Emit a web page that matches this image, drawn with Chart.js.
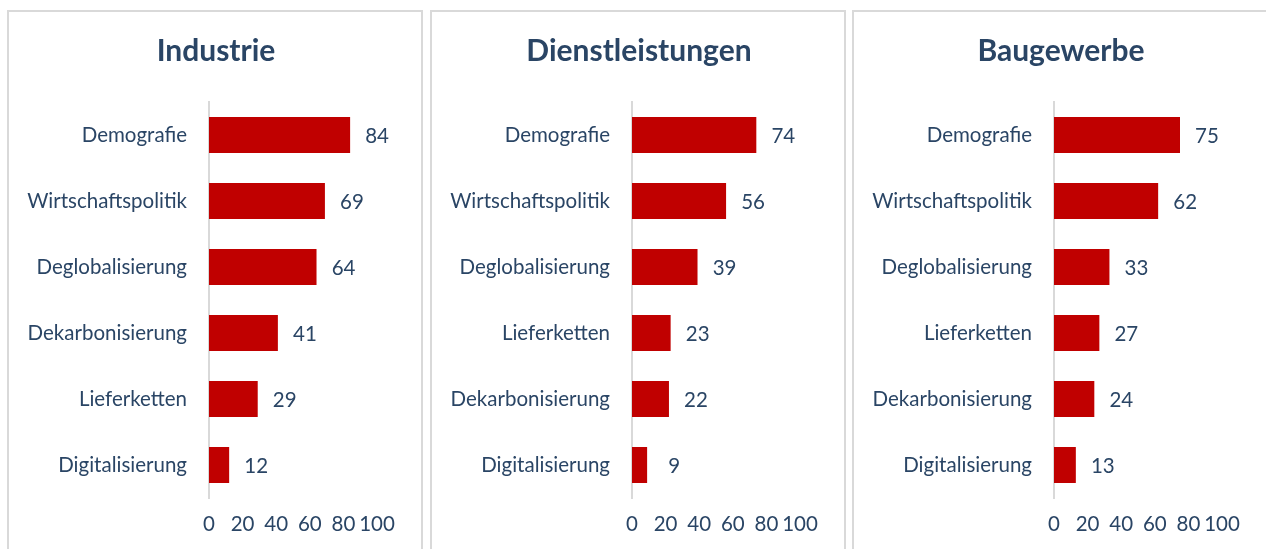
<!DOCTYPE html>
<html>
<head>
<meta charset="utf-8">
<script src="https://cdn.jsdelivr.net/npm/chart.js@4/dist/chart.umd.min.js"></script>
<style>
    body { margin: 0; background: #fff; overflow: hidden; }
    .panel {
        position: absolute; top: 10px; width: 412px; height: 560px;
        border: 2px solid #d9d9d9; background: #fff;
    }
    .panel canvas { position: absolute; left: 0; top: 0; }
</style>
</head>
<body>
<div class="panel" style="left:7px"><canvas id="c1" width="412" height="537"></canvas></div>
<div class="panel" style="left:430px"><canvas id="c2" width="412" height="537"></canvas></div>
<div class="panel" style="left:852px"><canvas id="c3" width="412" height="537"></canvas></div>
<script>
const TITLES = ['Industrie', 'Dienstleistungen', 'Baugewerbe'];

const industrieLabels = ['Demografie', 'Wirtschaftspolitik', 'Deglobalisierung', 'Dekarbonisierung', 'Lieferketten', 'Digitalisierung'];
const industrieValues = [84, 69, 64, 41, 29, 12];

const dienstLabels = ['Demografie', 'Wirtschaftspolitik', 'Deglobalisierung', 'Lieferketten', 'Dekarbonisierung', 'Digitalisierung'];
const dienstValues = [74, 56, 39, 23, 22, 9];

const bauLabels = ['Demografie', 'Wirtschaftspolitik', 'Deglobalisierung', 'Lieferketten', 'Dekarbonisierung', 'Digitalisierung'];
const bauValues = [75, 62, 33, 27, 24, 13];

const xTicks = [0, 20, 40, 60, 80, 100];

const TEXT = '#2a4565';
const BAR = '#c00000';
const FONT = 'Lato, "Open Sans", sans-serif';
const SIZE = 20.5;

// value labels right of each bar
const valueLabels = {
    id: 'valueLabels',
    afterDatasetsDraw(chart) {
        const ctx = chart.ctx;
        const meta = chart.getDatasetMeta(0);
        ctx.save();
        ctx.fillStyle = TEXT;
        ctx.font = SIZE + 'px ' + FONT;
        ctx.textAlign = 'center';
        ctx.textBaseline = 'middle';
        meta.data.forEach((bar, i) => {
            ctx.fillText(chart.data.datasets[0].data[i], bar.x + 27, bar.y + 1);
        });
        ctx.restore();
    }
};

// title centred on the whole panel, not on the padded box
const panelTitle = {
    id: 'panelTitle',
    afterDraw(chart, args, opts) {
        const ctx = chart.ctx;
        ctx.save();
        ctx.fillStyle = TEXT;
        ctx.font = 'bold 30px ' + FONT;
        ctx.textAlign = 'center';
        ctx.textBaseline = 'middle';
        ctx.fillText(opts.text, chart.width / 2 + 1, 39);
        ctx.restore();
    }
};

function makeChart(id, title, labels, values) {
    return new Chart(document.getElementById(id), {
        type: 'bar',
        data: {
            labels: labels,
            datasets: [{ data: values, backgroundColor: BAR, categoryPercentage: 1, barPercentage: 0.545 }]
        },
        options: {
            indexAxis: 'y',
            responsive: false,
            animation: false,
            layout: { padding: { left: 0, right: 44, top: 90, bottom: 0 } },
            plugins: {
                legend: { display: false },
                tooltip: { enabled: false },
                title: { display: false },
                panelTitle: { text: title }
            },
            scales: {
                x: {
                    min: 0, max: 100,
                    afterBuildTicks: s => { s.ticks = xTicks.map(v => ({ value: v })); },
                    afterFit: s => { s.height = 51; },
                    grid: { display: false, drawTicks: false },
                    border: { display: false },
                    ticks: { color: TEXT, padding: 14, autoSkip: false, maxRotation: 0, font: { family: FONT, size: SIZE } }
                },
                y: {
                    afterFit: s => { s.width = 200; },
                    grid: { display: false, drawTicks: false },
                    border: { display: true, color: '#d9d9d9', width: 2 },
                    ticks: { color: TEXT, padding: 22, font: { family: FONT, size: SIZE } }
                }
            }
        },
        plugins: [valueLabels, panelTitle]
    });
}

makeChart('c1', TITLES[0], industrieLabels, industrieValues);
makeChart('c2', TITLES[1], dienstLabels, dienstValues);
makeChart('c3', TITLES[2], bauLabels, bauValues);
</script>
</body>
</html>
